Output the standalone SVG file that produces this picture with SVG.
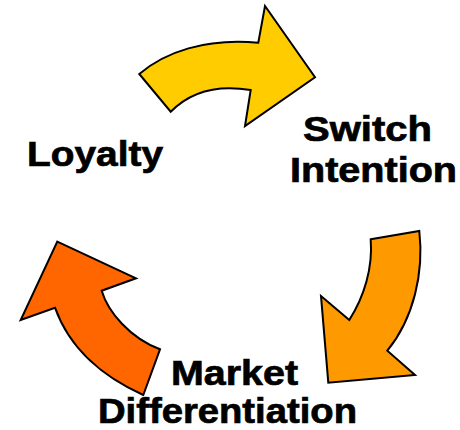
<svg xmlns="http://www.w3.org/2000/svg" width="460" height="430" viewBox="0 0 460 430">
  <style>
    .arrow { stroke: #000; stroke-width: 2; stroke-linejoin: miter; }
    .label { font-family: "Liberation Sans", Arial, sans-serif; font-weight: bold; font-size: 34.5px; fill: #000; stroke: #000; stroke-width: 0.7; }
  </style>
  <rect width="460" height="430" fill="#fff"/>
  <g id="connectors">
    <!-- Loyalty to Switch Intention -->
    <path id="arrow-top" class="arrow" fill="#FFCC00"
          d="M139.3,74 C165,52 205,38 258.3,42.7 L265,6 L315,77.3 L245,126 L250.7,90 C215,84 190,92 170.7,111.7 Z"/>
    <!-- Switch Intention to Market Differentiation -->
    <path id="arrow-right" class="arrow" fill="#FF9900"
          d="M370.7,239.3 L419.3,231 C424,272 414,318 387.3,350.7 L415,375 L328.3,382.7 L321,296 L349.3,320 C364,297 373,268 370.7,239.3 Z"/>
    <!-- Market Differentiation to Loyalty -->
    <path id="arrow-left" class="arrow" fill="#FF6600"
          d="M57.3,241.7 L136,278.3 L101.7,290.7 C108,312 130,338 160,349.3 L143.3,395 C105,378 70,350 55,307.7 L20.7,320 Z"/>
  </g>
  <g id="loyalty">
    <text class="label" x="27" y="166" textLength="136" lengthAdjust="spacingAndGlyphs">Loyalty</text>
  </g>
  <g id="switch-intention">
    <text class="label" x="303" y="141" textLength="129" lengthAdjust="spacingAndGlyphs">Switch</text>
    <text class="label" x="290" y="182" textLength="167" lengthAdjust="spacingAndGlyphs">Intention</text>
  </g>
  <g id="market-differentiation">
    <text class="label" x="171" y="385" textLength="127" lengthAdjust="spacingAndGlyphs">Market</text>
    <text class="label" x="98" y="423" textLength="259" lengthAdjust="spacingAndGlyphs">Differentiation</text>
  </g>
</svg>
